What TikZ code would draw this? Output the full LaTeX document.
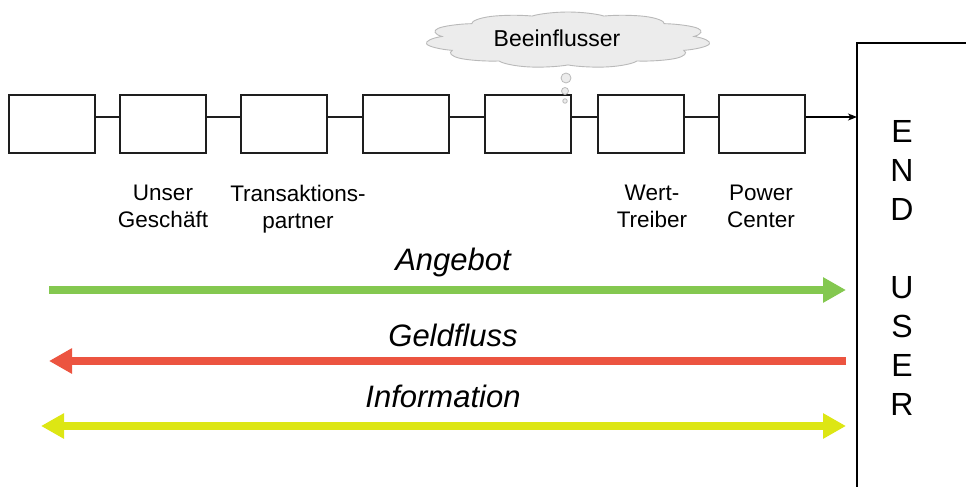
\documentclass[tikz,border=0pt]{standalone}
\usepackage{fontspec}
\setmainfont{Liberation Sans}
\usetikzlibrary{arrows.meta,shapes.symbols}
\definecolor{cgreen}{RGB}{132,200,80}
\definecolor{cred}{RGB}{236,84,64}
\definecolor{cyellow}{RGB}{221,230,20}
\definecolor{cloudfill}{RGB}{236,236,236}
\definecolor{cloudline}{RGB}{185,185,185}
\definecolor{boxline}{RGB}{30,30,30}
\tikzset{
  chainbox/.style={draw=boxline, line width=1.3pt, fill=white, minimum width=86pt, minimum height=58pt, inner sep=0pt},
  link/.style={draw=boxline, line width=1.2pt},
  lab/.style={align=center, inner sep=0pt, anchor=north, font=\fontsize{22.5}{27}\selectfont},
  flowlab/.style={inner sep=0pt, anchor=base, font=\fontsize{31}{37}\selectfont\itshape},
  flow/.style={line width=8pt, >={Triangle[length=23pt, width=24pt]}},
  bubble/.style={draw=cloudline, fill=cloudfill, line width=0.8pt}
}
\begin{document}
\begin{tikzpicture}[x=1pt,y=-1pt]
\useasboundingbox (0,0) rectangle (966,487);
% cloud (stretched horizontally)
\begin{scope}[shift={(568,40)}, xscale=5.1]
\node[cloud, transform shape, cloud puffs=11, cloud puff arc=120, aspect=1,
      draw=cloudline, fill=cloudfill, line width=0.9pt,
      minimum width=56pt, minimum height=56pt, inner sep=0pt] (cloud) at (0,0) {};
\end{scope}
\node[inner sep=0pt, anchor=base, font=\fontsize{23}{27}\selectfont] (beein) at (557,47) {Beeinflusser};
% chain boxes
\node[chainbox] (b1) at (52,124) {};
\node[chainbox] (b2) at (163,124) {};
\node[chainbox] (b3) at (284,124) {};
\node[chainbox] (b4) at (406,124) {};
\node[chainbox] (b5) at (528,124) {};
\node[chainbox] (b6) at (641,124) {};
\node[chainbox] (b7) at (762,124) {};
\foreach \a/\b in {b1/b2,b2/b3,b3/b4,b4/b5,b5/b6,b6/b7}
  \draw[link] ([yshift=7pt]\a.east) -- ([yshift=7pt]\b.west);
% thought bubbles
\node[circle, bubble, minimum size=10pt, inner sep=0pt] (bub1) at (566,78) {};
\node[circle, bubble, minimum size=7pt, inner sep=0pt] (bub2) at (565,91) {};
\node[circle, bubble, minimum size=4.5pt, inner sep=0pt] (bub3) at (565,101) {};
% end user box
\coordinate (eutl) at (857,43);
\coordinate (eutr) at (970,43);
\coordinate (eubl) at (857,490);
\coordinate (euin) at (857,117);
\draw[line width=1.1pt] (eutr) -- (eutl) -- (eubl);
\draw[line width=1.1pt, -{Stealth[length=9pt,width=7pt,inset=2.5pt]}] ([yshift=7pt]b7.east) -- (euin);
\node[align=center, inner sep=0pt, font=\fontsize{32}{39}\selectfont] (eu) at (902,268)
  {E\\N\\D\\\mbox{}\\U\\S\\E\\R};
% labels
\node[lab] (l2) at (163,185) {Unser\\Geschäft};
\node[lab] (l3) at (298,185) {Transaktions-\\partner};
\node[lab] (l6) at (652,185) {Wert-\\Treiber};
\node[lab] (l7) at (761,185) {Power\\Center};
% flows
\coordinate (g1) at (49,290);
\coordinate (g2) at (846,290);
\coordinate (r1) at (846,361);
\coordinate (r2) at (49,361);
\coordinate (y1) at (41,426);
\coordinate (y2) at (846,426);
\draw[flow, cgreen, ->] (g1) -- (g2);
\draw[flow, cred, ->] (r1) -- (r2);
\draw[flow, cyellow, <->] (y1) -- (y2);
\node[flowlab] (angebot) at (453,270) {Angebot};
\node[flowlab] (geld) at (453,346) {Geldfluss};
\node[flowlab] (info) at (443,407) {Information};
\end{tikzpicture}
\end{document}
